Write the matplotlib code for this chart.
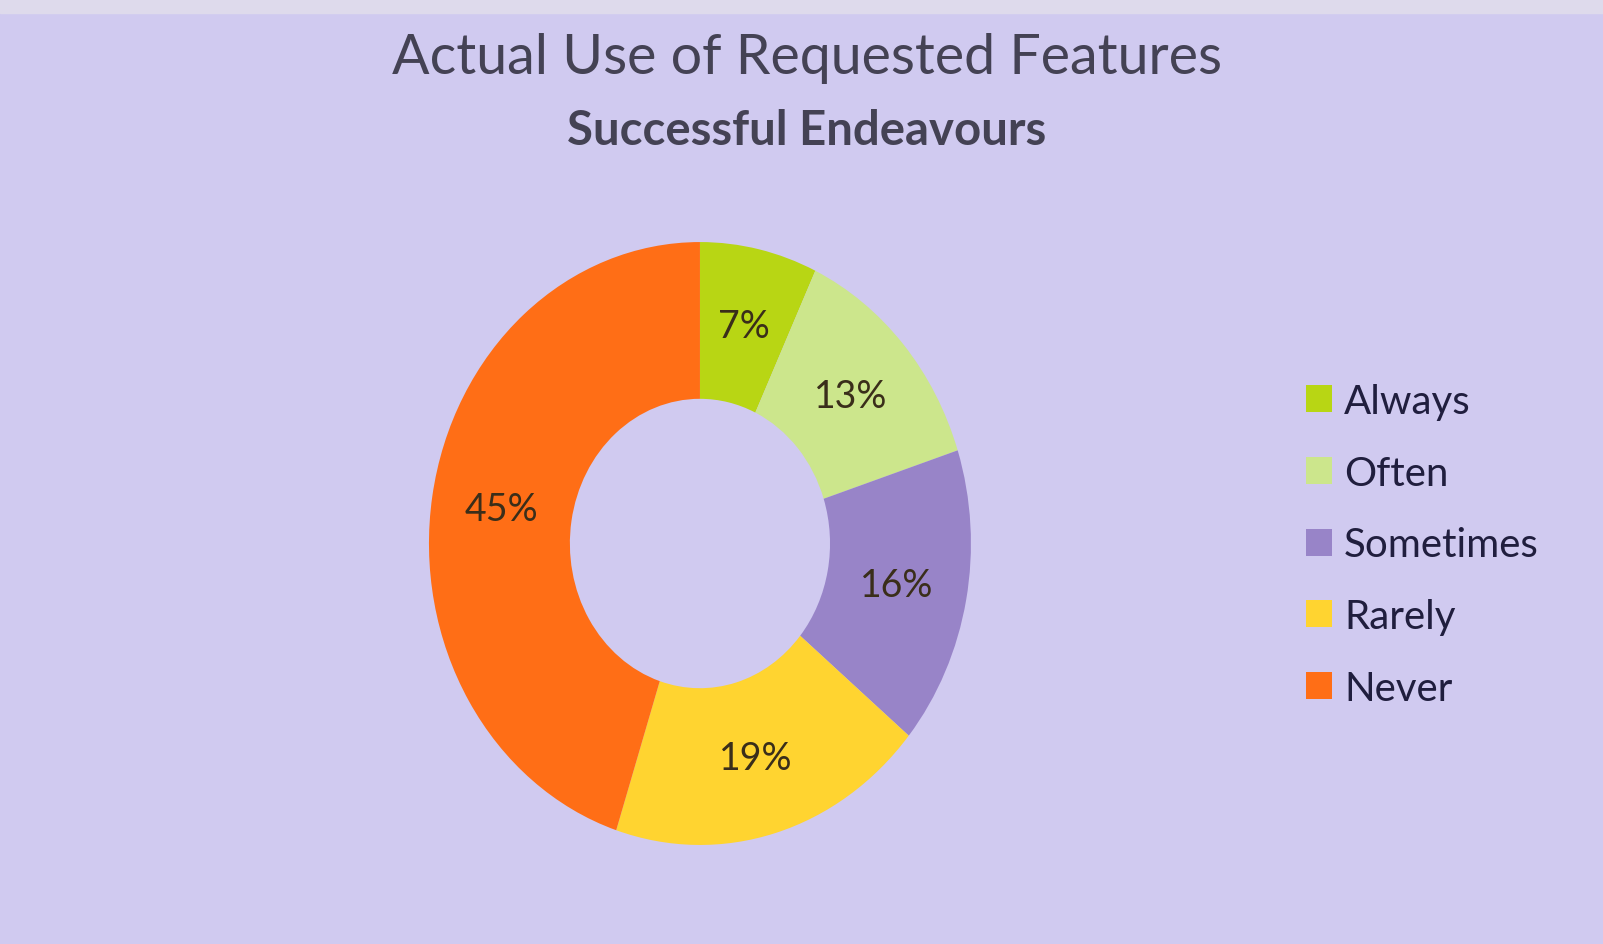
import matplotlib.pyplot as plt
from matplotlib.patches import Rectangle

# Données
categories = ['Always', 'Often', 'Sometimes', 'Rarely', 'Never']
values = [7, 13, 16, 19, 45]

# Couleurs
bg = (208/255, 202/255, 240/255)
colors = [(184/255, 214/255, 20/255),
          (204/255, 230/255, 140/255),
          (152/255, 132/255, 200/255),
          (255/255, 212/255, 48/255),
          (255/255, 110/255, 22/255)]
title_col = (68/255, 66/255, 84/255)
text_col = (32/255, 30/255, 62/255)

plt.rcParams['font.family'] = ['Lato', 'DejaVu Sans']

fig = plt.figure(figsize=(16.03, 9.45), dpi=100)
fig.patch.set_facecolor(bg)

# bande claire en haut
fig.patches.append(Rectangle((0, 0.985), 1, 0.015, transform=fig.transFigure,
                             color=(222/255, 218/255, 236/255), zorder=0))

ax = fig.add_axes([0.2676, 0.1048, 0.3381, 0.638])
wedges, texts, autotexts = ax.pie(values, colors=colors, startangle=90, counterclock=False,
                                  wedgeprops=dict(width=0.52, linewidth=0),
                                  autopct=lambda p: f'{p:.0f}%', pctdistance=0.74,
                                  textprops=dict(fontsize=27, color=(58/255, 46/255, 26/255)))
ax.set_aspect('auto')
ax.set_xlim(-1, 1)
ax.set_ylim(-1, 1)
ax.set_facecolor(bg)

fig.text(0.5035, 0.938, 'Actual Use of Requested Features', ha='center', va='center',
         fontsize=40, color=title_col)
fig.text(0.5035, 0.861, 'Successful Endeavours', ha='center', va='center',
         fontsize=34, fontweight='bold', color=title_col)

fig.legend(wedges, categories, loc='upper left', bbox_to_anchor=(0.792, 0.632),
           frameon=False, fontsize=29, labelcolor=text_col,
           handlelength=0.65, handleheight=0.65, handletextpad=0.3, labelspacing=0.86)

fig.savefig('out.png', dpi=100, facecolor=fig.get_facecolor())
